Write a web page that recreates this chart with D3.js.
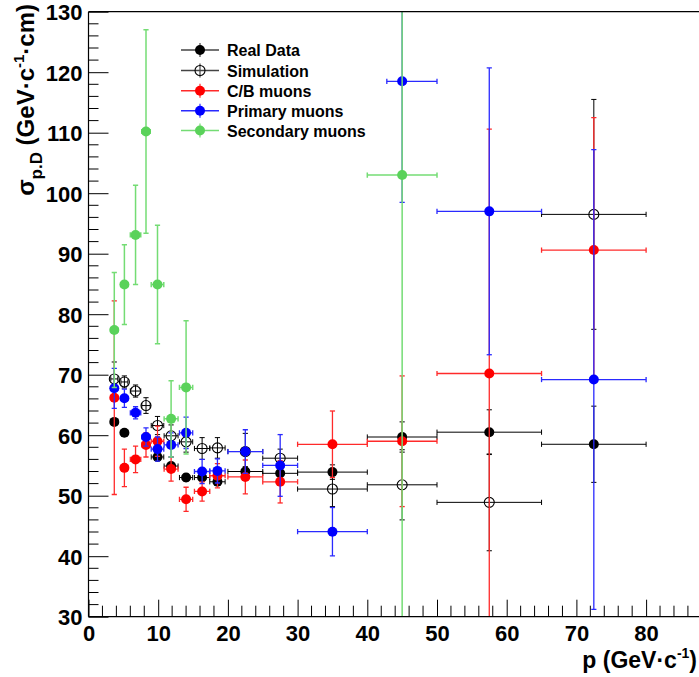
<!DOCTYPE html>
<html>
<head>
<meta charset="utf-8">
<script src="https://cdn.jsdelivr.net/npm/d3@7"></script>
<style>
html,body{margin:0;padding:0;background:#fff;}
svg{display:block;}
text{font-family:"Liberation Sans",Arial,Helvetica,sans-serif;font-weight:bold;fill:#000;}
</style>
</head>
<body>
<svg id="chart" width="699" height="677"></svg>
<script>
// ---------- data ----------
const pBins      = [3.7, 5.15, 6.75, 8.25, 9.9, 11.85, 14.0, 16.3, 18.5, 22.5, 27.5, 35, 45, 57.5, 72.5];
const pErrLow    = [0.5, 0.5, 0.75, 0.6, 0.9, 1.0, 0.95, 1.1, 1.1, 2.5, 2.5, 5, 5, 7.5, 7.5];
const pErrHigh   = [0.5, 0.5, 0.75, 0.6, 0.9, 1.0, 0.95, 1.1, 1.1, 2.5, 2.5, 5, 5, 7.5, 7.5];
const primErrLowX = [0.5, 0.5, 0.75, 0.6, 0.9, 1.0, 0.95, 1.1, 1.1, 2.5, 2.5, 5, 2.2, 7.5, 7.5];

const realData   = [62.2, 60.4, null, null, 56.4, 54.9, 53.0, 53.0, 52.3, 54.0, 53.7, 53.9, 59.7, 60.5, 58.5];
const realErr    = [0.5, 0.5, 0, 0, 0.6, 0.6, 0.6, 0.6, 0.6, 0.8, 0.8, 1.2, 2.5, 3.7, 6.3];
const simulation = [69.3, 68.8, 67.3, 64.9, 61.6, 59.9, 58.9, 57.8, 57.9, 57.3, 56.2, 51.1, 51.8, 48.9, 96.5];
const simErr     = [2.8, 1.0, 1.0, 1.3, 1.5, 1.8, 1.7, 1.8, 1.7, 3.0, 1.5, 2.9, 5.8, 8.0, 19.0];
const cbMuons    = [66.2, 54.6, 56.0, 58.4, 59.0, 54.4, 49.4, 50.7, 53.3, 53.1, 52.3, 58.5, 59.0, 70.2, 90.6];
const cbErr      = [16.0, 3.1, 2.2, 2.0, 2.5, 2.0, 2.0, 1.6, 2.0, 2.8, 3.5, 5.5, 10.8, 40.4, 21.9];
const primMuons  = [67.75, 66.1, 63.7, 59.7, 57.7, 58.4, 60.4, 54.0, 54.1, 57.3, 55.0, 44.05, 118.5, 97.0, 69.2];
const primErr    = [3.3, 1.5, 1.0, 1.5, 2.0, 2.0, 2.6, 2.0, 2.0, 3.6, 5.1, 4.0, 20.0, 23.7, 38.0];
const secMuons   = [77.4, 84.9, 93.1, 110.2, 84.9, 62.7, 67.9, null, null, null, null, null, 103.0, null, null];
const secErr     = [9.5, 6.6, 8.2, 16.8, 9.8, 6.3, 11.0, 0, 0, 0, 0, 0, 80.0, 0, 0];

const legendLabels = ["Real Data", "Simulation", "C/B muons", "Primary muons", "Secondary muons"];
const xTicks = [0, 10, 20, 30, 40, 50, 60, 70, 80];
const yTicks = [30, 40, 50, 60, 70, 80, 90, 100, 110, 120, 130];

// ---------- layout ----------
const padL = 88.5, padT = 11.7, padB = 616.7;
const x = d3.scaleLinear().domain([0, 90]).range([padL, padL + 627.3]);
const y = d3.scaleLinear().domain([30, 130]).range([padB, padT]);

const svg = d3.select("#chart");
svg.append("rect").attr("width", 699).attr("height", 677).attr("fill", "#fff");

svg.append("defs").append("clipPath").attr("id", "plotclip")
  .append("rect").attr("x", padL).attr("y", padT).attr("width", 700).attr("height", padB - padT);

const series = [
  {name: legendLabels[0], vals: realData,   err: realErr, exl: pErrLow,     exh: pErrHigh, color: "#000", line: "#000", open: false, lw: 1},
  {name: legendLabels[1], vals: simulation, err: simErr,  exl: pErrLow,     exh: pErrHigh, color: "#000", line: "#000", open: true,  lw: 1},
  {name: legendLabels[2], vals: cbMuons,    err: cbErr,   exl: pErrLow,     exh: pErrHigh, color: "#ff0000", line: "#ff2a2a", open: false, lw: 1.3},
  {name: legendLabels[3], vals: primMuons,  err: primErr, exl: primErrLowX, exh: pErrHigh, color: "#0000ff", line: "#2a2aff", open: false, lw: 1.3},
  {name: legendLabels[4], vals: secMuons,   err: secErr,  exl: pErrLow,     exh: pErrHigh, color: "#5ad25a", line: "#74dc74", open: false, lw: 1.5}
];

const plot = svg.append("g").attr("clip-path", "url(#plotclip)");
const cap = 2.6;
series.forEach(s => {
  const g = plot.append("g");
  const pts = pBins.map((p, i) => ({p, v: s.vals[i], e: s.err[i], l: s.exl[i], h: s.exh[i]})).filter(d => d.v !== null);
  pts.forEach(d => {
    const cx = x(d.p), cy = y(d.v);
    const x0 = x(d.p - d.l), x1 = x(d.p + d.h);
    const y0 = y(d.v - d.e), y1 = y(d.v + d.e);
    const st = sel => sel.attr("stroke", s.line).attr("stroke-width", s.lw).attr("fill", "none");
    st(g.append("line").attr("x1", x0).attr("x2", x1).attr("y1", cy).attr("y2", cy));
    st(g.append("line").attr("x1", x0).attr("x2", x0).attr("y1", cy - cap).attr("y2", cy + cap));
    st(g.append("line").attr("x1", x1).attr("x2", x1).attr("y1", cy - cap).attr("y2", cy + cap));
    if (d.e > 0) {
      st(g.append("line").attr("x1", cx).attr("x2", cx).attr("y1", y0).attr("y2", y1));
      st(g.append("line").attr("x1", cx - cap).attr("x2", cx + cap).attr("y1", y0).attr("y2", y0));
      st(g.append("line").attr("x1", cx - cap).attr("x2", cx + cap).attr("y1", y1).attr("y2", y1));
    }
    if (s.open) {
      g.append("circle").attr("cx", cx).attr("cy", cy).attr("r", 5)
        .attr("fill", "none").attr("stroke", "#000").attr("stroke-width", 1.1);
    } else {
      g.append("circle").attr("cx", cx).attr("cy", cy).attr("r", 5).attr("fill", s.color);
    }
  });
});

// ---------- axes ----------
const minorY = d3.range(30, 131, 2).filter(v => v % 10 !== 0);
const minorX = d3.range(0, 90, 2).filter(v => v % 10 !== 0);

const yAxis = svg.append("g").attr("transform", `translate(${padL},0)`)
  .call(d3.axisLeft(y).tickValues(yTicks).tickSize(-20).tickPadding(6).tickFormat(d3.format("d")));
yAxis.select(".domain").remove();
yAxis.selectAll(".tick line").attr("stroke", "#000");
yAxis.selectAll(".tick text").attr("font-size", 22).attr("font-family", "Liberation Sans, Arial, sans-serif")
  .attr("font-weight", "bold").attr("dy", "0.36em");
svg.append("g").selectAll("line").data(minorY).join("line")
  .attr("x1", padL).attr("x2", padL + 10).attr("y1", d => y(d)).attr("y2", d => y(d)).attr("stroke", "#000");

const xAxis = svg.append("g").attr("transform", `translate(0,${padB})`)
  .call(d3.axisBottom(x).tickValues(xTicks).tickSize(-17).tickPadding(9).tickFormat(d3.format("d")));
xAxis.select(".domain").remove();
xAxis.selectAll(".tick line").attr("stroke", "#000");
xAxis.selectAll(".tick text").attr("font-size", 22).attr("font-family", "Liberation Sans, Arial, sans-serif")
  .attr("font-weight", "bold").attr("dy", "0.71em");
svg.append("g").selectAll("line").data(minorX).join("line")
  .attr("x1", d => x(d)).attr("x2", d => x(d)).attr("y1", padB).attr("y2", padB - 11).attr("stroke", "#000");

svg.append("line").attr("x1", padL).attr("x2", padL).attr("y1", padT).attr("y2", padB).attr("stroke", "#000").attr("stroke-width", 1.2);
svg.append("line").attr("x1", padL).attr("x2", 699).attr("y1", padB).attr("y2", padB).attr("stroke", "#000").attr("stroke-width", 1.2);
svg.append("line").attr("x1", padL).attr("x2", 699).attr("y1", padT).attr("y2", padT).attr("stroke", "#000").attr("stroke-width", 1.2);

// ---------- axis titles ----------
const xt = svg.append("text").attr("x", 697).attr("y", 668).attr("text-anchor", "end").attr("font-size", 23);
xt.append("tspan").text("p (GeV·c");
xt.append("tspan").attr("font-size", 14).attr("dy", -10).text("-1");
xt.append("tspan").attr("dy", 10).text(")");

const yt = svg.append("text").attr("transform", "translate(34,4) rotate(-90)").attr("text-anchor", "end").attr("font-size", 24);
yt.append("tspan").text("σ");
yt.append("tspan").attr("font-size", 17).attr("dy", 8).text("p.D");
yt.append("tspan").attr("dy", -8).text(" (GeV·c");
yt.append("tspan").attr("font-size", 15).attr("dy", -10).text("-1");
yt.append("tspan").attr("dy", 10).text("·cm)");

// ---------- legend ----------
const leg = svg.append("g");
const rows = [50, 70.5, 90.7, 110.7, 130.5];
series.forEach((s, i) => {
  const ry = rows[i];
  const lc = i < 2 ? "#444" : s.line;
  leg.append("line").attr("x1", 181).attr("x2", 219).attr("y1", ry).attr("y2", ry).attr("stroke", lc).attr("stroke-width", 1.4);
  leg.append("line").attr("x1", 200).attr("x2", 200).attr("y1", ry - 7).attr("y2", ry + 7).attr("stroke", lc).attr("stroke-width", 1.2);
  if (s.open) {
    leg.append("circle").attr("cx", 200).attr("cy", ry).attr("r", 5).attr("fill", "none").attr("stroke", "#000").attr("stroke-width", 1.1);
  } else {
    leg.append("circle").attr("cx", 200).attr("cy", ry).attr("r", 5).attr("fill", s.color);
  }
  leg.append("text").attr("x", 227).attr("y", ry + 6).attr("font-size", 16).text(s.name);
});
</script>
</body>
</html>
